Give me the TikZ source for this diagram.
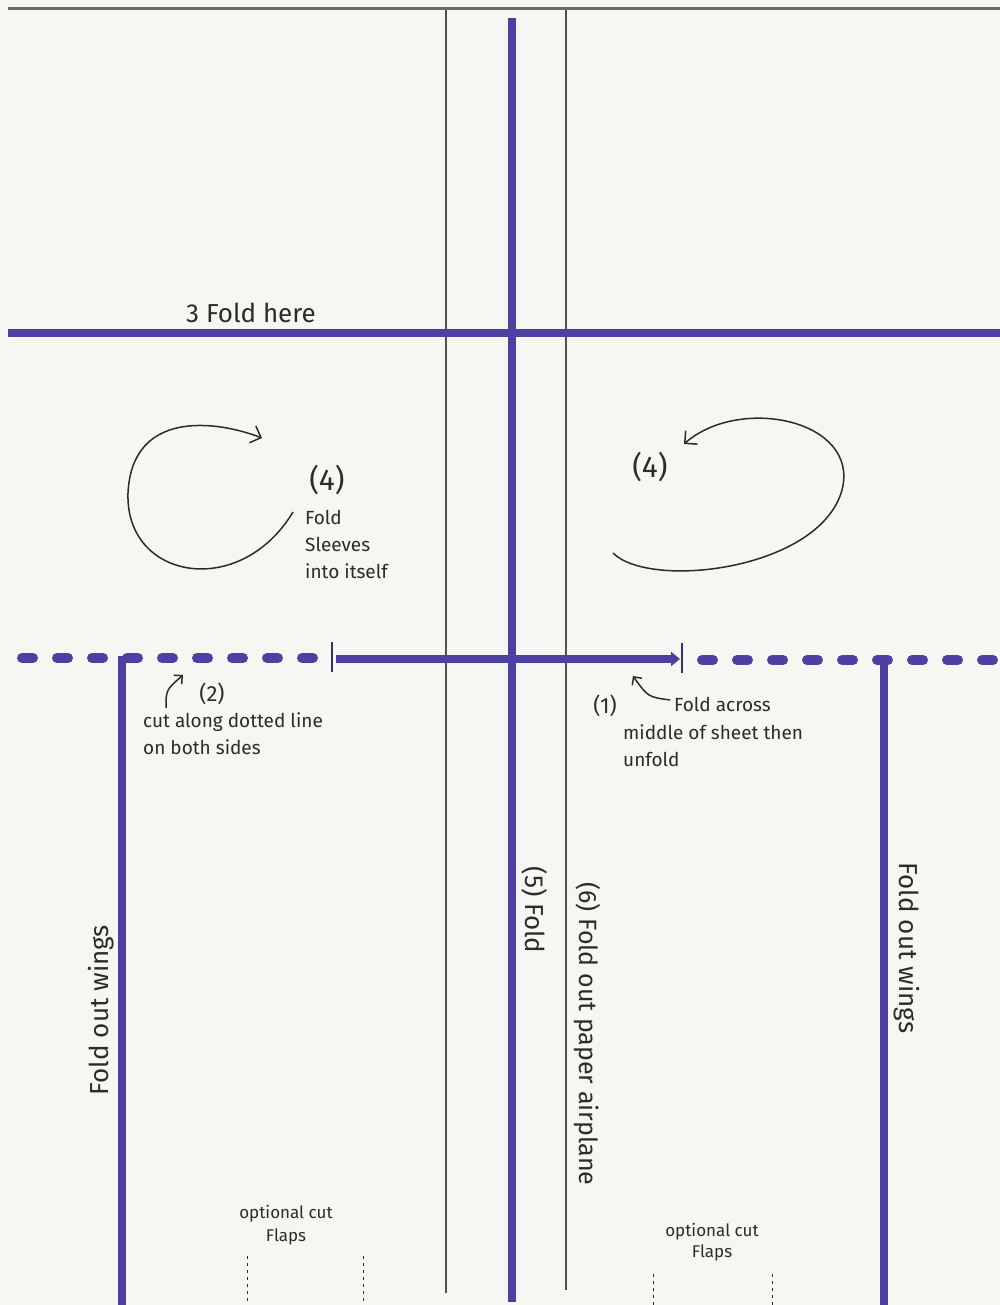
\documentclass[tikz,border=0pt]{standalone}
\usepackage{fontspec}
\setmainfont{Fira Sans}
\usetikzlibrary{arrows.meta}
\definecolor{paper}{HTML}{F6F6F3}
\definecolor{marker}{HTML}{4D40A3}
\definecolor{pencil}{HTML}{2B2B2B}
\definecolor{rule}{HTML}{505050}
\definecolor{edge}{HTML}{6A6A6A}
\tikzset{
  foldline/.style={draw=marker,line width=8pt},
  cutline/.style={draw=marker,line width=10pt,line cap=round,dash pattern=on 11pt off 24pt},
  thinrule/.style={draw=rule,line width=1.2pt},
  tick/.style={draw=marker!70!black,line width=2pt},
  flapcut/.style={draw=pencil,line width=1pt,dash pattern=on 3pt off 4pt},
  pen/.style={draw=pencil,line width=1.5pt,-{Straight Barb[length=9pt,width=18pt]}},
  note/.style={text=pencil,inner sep=0pt,align=left,font=\fontsize{19}{27}\selectfont},
  tag/.style={text=pencil,inner sep=0pt,font=\fontsize{30}{30}\selectfont},
  sidenote/.style={text=pencil,inner sep=0pt,font=\fontsize{#1}{#1}\selectfont},
}
\begin{document}
\begin{tikzpicture}[x=1pt,y=-1pt]
  % sheet
  \fill[paper] (0,0) rectangle (1000,1305);
  \useasboundingbox (0,0) rectangle (1000,1305);
  \draw[edge,line width=3pt] (8,9) -- (1000,9);

  % thin rules down the middle
  \draw[thinrule] (446,10) -- (446,1293);
  \draw[thinrule] (566,10) -- (566,1290);

  % marker fold lines
  \draw[foldline] (512,18) -- (512,1302);
  \draw[foldline] (8,333) -- (1000,333);
  \node[sidenote=26] (foldhere) at (251,313) {3 Fold here};

  % cut line across the middle
  \draw[cutline] (22,658) -- (318,658);
  \draw[cutline] (702,660) -- (1000,660);
  \draw[tick] (332,642) -- (332,672);
  \draw[tick] (682,643) -- (682,673);
  \draw[foldline,-{Triangle[length=9pt,width=14pt]}] (336,659) -- (680,659);

  % wing folds
  \draw[foldline] (122,656) -- (122,1305);
  \draw[foldline] (884,662) -- (884,1305);
  \node[sidenote=26,rotate=90] (wingsleft) at (101,1010) {Fold out wings};
  \node[sidenote=26,rotate=-90] (wingsright) at (907,948) {Fold out wings};

  % step 4, left sleeve
  \coordinate (sleeveA) at (293,512);
  \coordinate (sleeveB) at (262,438);
  \draw[pen] (sleeveA) .. controls (240,600) and (125,580) .. (128,493)
    .. controls (132,410) and (215,420) .. (sleeveB);
  \node[tag] (fourL) at (327,480) {(4)};
  \node[note,anchor=north west] (sleeves) at (305,510) {Fold\\Sleeves\\into itself};

  % step 4, right sleeve
  \coordinate (sleeveC) at (613,553);
  \coordinate (sleeveD) at (684,444);
  \draw[pen] (sleeveC) .. controls (650,590) and (820,570) .. (842,490)
    .. controls (860,420) and (740,395) .. (sleeveD);
  \node[tag] (fourR) at (650,467) {(4)};

  % step 2
  \coordinate (cutA) at (166,708);
  \coordinate (cutB) at (183,675);
  \draw[pen,-{Straight Barb[length=6pt,width=12pt]}] (cutA) .. controls (166,690) .. (cutB);
  \node[note,font=\fontsize{22}{22}\selectfont] (two) at (212,694) {(2)};
  \node[note,anchor=north west] (cutnote) at (143,712) {cut along dotted line\\on both sides};

  % step 1
  \node[note,font=\fontsize{22}{22}\selectfont] (one) at (605,706) {(1)};
  \coordinate (midA) at (670,700);
  \coordinate (midB) at (633,676);
  \draw[pen,-{Straight Barb[length=6pt,width=12pt]}] (midA) .. controls (648,697) .. (midB);
  \node[note,anchor=west] (across) at (674,704) {Fold across};
  \node[note,anchor=north west] (middle) at (623,724) {middle of sheet then\\unfold};

  % steps 5 and 6
  \node[sidenote=26,rotate=-90] (five) at (535,910) {(5) Fold};
  \node[sidenote=25,rotate=-90] (six) at (587,1034) {(6) Fold out paper airplane};

  % optional flaps
  \node[note,align=center,font=\fontsize{17}{23}\selectfont] (flapsL) at (286,1225) {optional cut\\Flaps};
  \node[note,align=center,font=\fontsize{17}{21}\selectfont] (flapsR) at (712,1242) {optional cut\\Flaps};
  \foreach \x/\y in {247/1256,363/1256,653/1274,772/1274} {
    \draw[flapcut] (\x,\y) -- (\x,1305);
  }
\end{tikzpicture}
\end{document}
